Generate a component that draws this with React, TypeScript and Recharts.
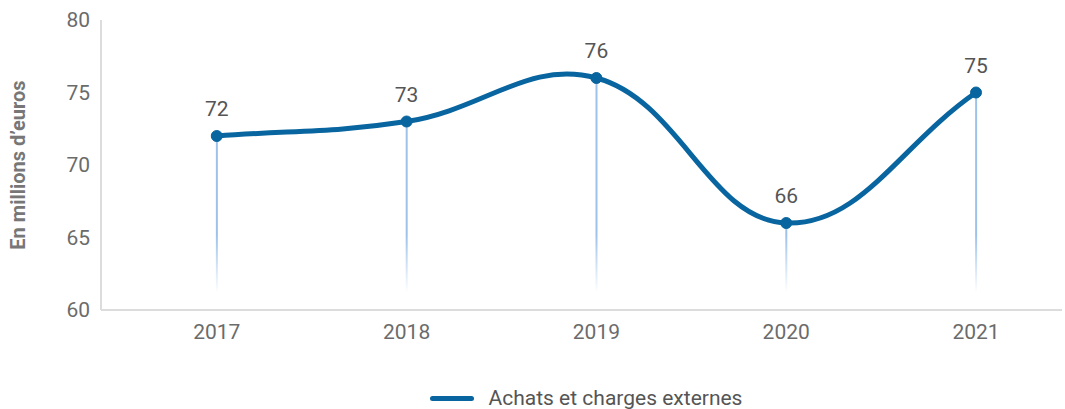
import React from "react";
import {
  ComposedChart,
  Line,
  Bar,
  XAxis,
  YAxis,
  Legend,
  LabelList,
} from "recharts";

const years = [2017, 2018, 2019, 2020, 2021];
const values = [72, 73, 76, 66, 75];
const yTicks = [60, 65, 70, 75, 80];
const seriesName = "Achats et charges externes";
const yAxisTitle = "En millions d’euros";

const data = years.map((year, i) => ({ year, value: values[i] }));

const FONT = "Roboto, 'Noto Sans', sans-serif";
const LINE_COLOR = "#08659f";

// Tension-based cubic spline (Catmull-Rom style, as used by many chart libs)
const tensionCurve = (tension: number) => (context: any) => {
  let pts: [number, number][] = [];
  return {
    areaStart() {},
    areaEnd() {},
    lineStart() {
      pts = [];
    },
    point(x: number, y: number) {
      pts.push([+x, +y]);
    },
    lineEnd() {
      const n = pts.length;
      if (!n) return;
      const cps = pts.map((p, i) => {
        const prev = pts[Math.max(0, i - 1)];
        const next = pts[Math.min(n - 1, i + 1)];
        const d01 = Math.hypot(p[0] - prev[0], p[1] - prev[1]);
        const d12 = Math.hypot(next[0] - p[0], next[1] - p[1]);
        let s01 = d01 / (d01 + d12);
        let s12 = d12 / (d01 + d12);
        if (isNaN(s01)) s01 = 0;
        if (isNaN(s12)) s12 = 0;
        const fa = tension * s01;
        const fb = tension * s12;
        return {
          prev: [p[0] - fa * (next[0] - prev[0]), p[1] - fa * (next[1] - prev[1])],
          next: [p[0] + fb * (next[0] - prev[0]), p[1] + fb * (next[1] - prev[1])],
        };
      });
      context.moveTo(pts[0][0], pts[0][1]);
      for (let i = 1; i < n; i++) {
        context.bezierCurveTo(
          cps[i - 1].next[0],
          cps[i - 1].next[1],
          cps[i].prev[0],
          cps[i].prev[1],
          pts[i][0],
          pts[i][1]
        );
      }
    },
  };
};

const LegendContent = () => (
  <div
    style={{
      display: "flex",
      alignItems: "center",
      justifyContent: "center",
      height: 24,
      paddingLeft: 110,
      fontFamily: FONT,
      fontSize: 21,
      color: "#555",
    }}
  >
    <span
      style={{
        display: "inline-block",
        width: 44,
        height: 5,
        borderRadius: 3,
        background: LINE_COLOR,
        marginRight: 15,
      }}
    />
    <span>{seriesName}</span>
  </div>
);

export default function App() {
  return (
    <div style={{ position: "absolute", left: 0, top: 0, background: "#fff" }}>
      <ComposedChart
        width={1065}
        height={409}
        data={data}
        margin={{ top: 20, right: 3, bottom: 0, left: 0 }}
      >
        <defs>
          <linearGradient id="dropFade" gradientUnits="userSpaceOnUse" x1="0" y1="20" x2="0" y2="310">
            <stop offset="0" stopColor="#9cc2ea" stopOpacity={1} />
            <stop offset="0.74" stopColor="#9cc2ea" stopOpacity={1} />
            <stop offset="0.94" stopColor="#9cc2ea" stopOpacity={0} />
            <stop offset="1" stopColor="#9cc2ea" stopOpacity={0} />
          </linearGradient>
        </defs>
        <XAxis
          dataKey="year"
          type="number"
          domain={[2016.39, 2021.453]}
          ticks={years}
          allowDataOverflow
          axisLine={{ stroke: "#dcdcdc", strokeWidth: 2 }}
          tickLine={false}
          tickSize={0}
          tickMargin={14}
          height={60}
          tick={{ fill: "#6b6b6b", fontSize: 21, fontFamily: FONT }}
        />
        <YAxis
          domain={[60, 80]}
          ticks={yTicks}
          width={101}
          axisLine={{ stroke: "#dcdcdc", strokeWidth: 2 }}
          tickLine={false}
          tickSize={0}
          tickMargin={11}
          tick={{ fill: "#6b6b6b", fontSize: 21, fontFamily: FONT }}
          label={{
            value: yAxisTitle,
            angle: -90,
            position: "insideLeft",
            offset: 18,
            style: {
              textAnchor: "middle",
              fill: "#777",
              fontSize: 20,
              fontWeight: 700,
              fontFamily: FONT,
            },
          }}
        />
        <Bar
          dataKey="value"
          barSize={2}
          fill="url(#dropFade)"
          isAnimationActive={false}
          legendType="none"
        />
        <Line
          dataKey="value"
          name={seriesName}
          type={tensionCurve(0.4) as any}
          stroke={LINE_COLOR}
          strokeWidth={5}
          dot={{ r: 5.5, fill: LINE_COLOR, stroke: LINE_COLOR, strokeWidth: 1 }}
          activeDot={false}
          isAnimationActive={false}
        >
          <LabelList
            dataKey="value"
            position="top"
            offset={20}
            style={{ fill: "#555", fontSize: 21, fontFamily: FONT }}
          />
        </Line>
        <Legend
          verticalAlign="bottom"
          height={39}
          wrapperStyle={{ top: 386, bottom: "auto" }}
          content={() => <LegendContent />}
        />
      </ComposedChart>
    </div>
  );
}
